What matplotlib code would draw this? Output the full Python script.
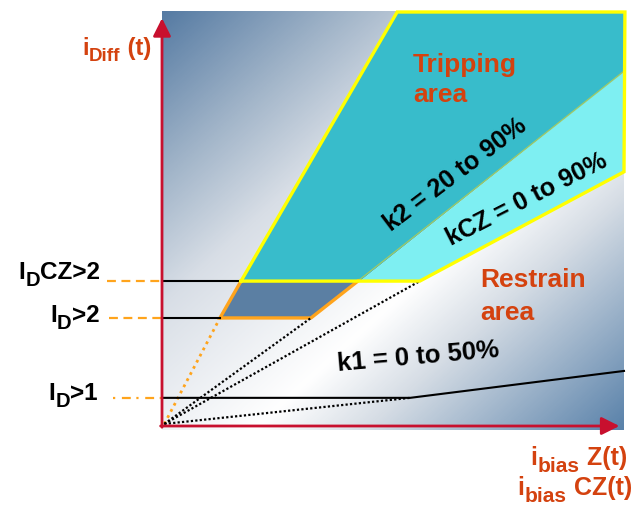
import numpy as np
import matplotlib
matplotlib.use('Agg')
import matplotlib.pyplot as plt
from matplotlib.colors import LinearSegmentedColormap
from matplotlib.transforms import offset_copy

plt.rcParams['font.family'] = ['Liberation Sans', 'DejaVu Sans']

# threshold levels (i_diff)
id1 = 0.68
id2 = 2.61
idcz2 = 3.5

# tripping area (k2 slope), check zone band (kCZ), I_D>2 block
trip_x = [1.71, 5.09, 10.02, 10.0, 4.29]
trip_y = [3.5, 10.0, 10.0, 8.57, 3.5]
cz_x = [4.29, 10.0, 10.0, 5.58]
cz_y = [3.5, 8.57, 6.14, 3.5]
blk_x = [1.255, 1.71, 4.24, 3.225]
blk_y = [2.61, 3.5, 3.5, 2.61]

# k1 characteristic
k1_x = [0.0, 5.37, 10.0]
k1_y = [0.68, 0.68, 1.33]

# dotted construction lines from origin
fan_x = [[0.05, 3.225], [0.05, 5.58], [0.05, 5.37]]
fan_y = [[0.05, 2.61], [0.05, 3.5], [0.05, 0.68]]

crimson = '#C8102E'
orange_txt = '#D4420F'
orange = '#FFA41C'
yellow = '#FFFF00'

SX, SY = 46.2, 41.4
fig = plt.figure(figsize=(6.39, 5.06), dpi=100)
ax = fig.add_axes([0, 0, 1, 1])
ax.set_xlim(-162 / SX, (639 - 162) / SX)
ax.set_ylim((427 - 506) / SY, 427 / SY)
ax.axis('off')
rend = fig.canvas.get_renderer()


def rich(x, y, parts, align='left', **kw):
    # parts: (string, fontsize, vertical offset in px)
    placed = []
    off = 0
    for s, size, dy in parts:
        t = ax.text(x, y, s, fontsize=size, ha='left', va='baseline',
                    transform=offset_copy(ax.transData, fig=fig, x=off, y=dy, units='dots'), **kw)
        placed.append((t, off, dy))
        off += t.get_window_extent(rend).width
    if align == 'right':
        for t, o, dy in placed:
            t.set_transform(offset_copy(ax.transData, fig=fig, x=o - off, y=dy, units='dots'))


# background gradient
cmap = LinearSegmentedColormap.from_list('bg', [
    (0.0, '#567BA3'), (0.2, '#A2B5C9'), (0.35, '#D8DEE6'),
    (0.6, '#FFFFFF'), (0.72, '#D6DDE5'), (1.0, '#5A82AA')])
gx, gy = np.meshgrid(np.linspace(0, 1, 300), np.linspace(0, 1, 300))
s = (gx + gy) / 2
ax.imshow(s, cmap=cmap, extent=[0, 10, -0.1, 10], origin='upper',
          aspect='auto', interpolation='bilinear', zorder=0, vmin=0, vmax=1)

# fills
ax.fill(trip_x, trip_y, color='#38BCCB', zorder=2, lw=0)
ax.fill(cz_x, cz_y, color='#7EEFF2', zorder=2, lw=0)
ax.fill(blk_x, blk_y, color='#5B7FA3', zorder=2, lw=0)

# k2 / kCZ dividing line
ax.plot([blk_x[3], cz_x[1]], [blk_y[3], cz_y[1]], color='#9CC86A', lw=1.0, zorder=3)

# yellow outline of tripping area
ox = [trip_x[0], trip_x[1], trip_x[2], cz_x[2], cz_x[3], trip_x[0]]
oy = [trip_y[0], trip_y[1], trip_y[2], cz_y[2], cz_y[3], trip_y[0]]
ax.plot(ox, oy, color=yellow, lw=2.4, zorder=4, solid_joinstyle='miter')

# orange outline of I_D>2 block
ax.plot([blk_x[1], blk_x[0], blk_x[3], blk_x[2]],
        [blk_y[1], blk_y[0], blk_y[3], blk_y[2]],
        color=orange, lw=2.4, zorder=3, solid_joinstyle='miter')
ax.plot([0.05, blk_x[0]], [0.05, blk_y[0]], color=orange, lw=2.0,
        ls=(0, (1, 1.5)), zorder=3)

# dotted fan
for fx, fy in zip(fan_x, fan_y):
    ax.plot(fx, fy, color='black', lw=1.6, ls=(0, (1, 1)), zorder=3)

# threshold lines
ax.plot([0, blk_x[1]], [idcz2, idcz2], color='black', lw=1.5, zorder=3)
ax.plot([0.05, blk_x[0]], [id2, id2], color='black', lw=1.5, zorder=3)
ax.plot(k1_x, k1_y, color='black', lw=1.5, zorder=3)

# orange dashed leaders
ax.plot([-1.2, -0.02], [idcz2, idcz2], color=orange, lw=1.6, ls=(0, (4, 2.5)), zorder=3)
ax.plot([-1.15, -0.02], [id2, id2], color=orange, lw=1.6, ls=(0, (4, 2.5)), zorder=3)
ax.plot([-1.07, -0.02], [id1, id1], color=orange, lw=1.6, ls=(0, (1, 3, 4, 2.5)), zorder=3)

# axes arrows
arr = dict(arrowstyle='-|>,head_length=0.4,head_width=0.2', color=crimson,
           lw=2.0, mutation_scale=27, shrinkA=0, shrinkB=0)
ax.annotate('', xy=(0, 9.85), xytext=(0, -0.03), arrowprops=arr, zorder=5)
ax.annotate('', xy=(9.9, 0), xytext=(-0.03, 0), arrowprops=arr, zorder=5)

# threshold labels
rich(-1.34, 3.57, [('I', 17.5, 0), ('D', 14.5, -7), ('CZ>2', 17.5, 0)],
     align='right', fontweight='bold')
rich(-1.36, 2.54, [('I', 17.5, 0), ('D', 14.5, -7), ('>2', 17.5, 0)],
     align='right', fontweight='bold')
rich(-1.40, 0.65, [('I', 17.5, 0), ('D', 14.5, -7), ('>1', 17.5, 0)],
     align='right', fontweight='bold')

# axis labels
rich(-1.72, 8.99, [('i', 17, 0), ('Diff', 13.5, -6), (' (t)', 17, 0)],
     fontweight='bold', color=orange_txt)
rich(10.06, -0.92, [('i', 18, 0), ('bias', 15, -7), (' Z(t)', 18, 0)],
     align='right', fontweight='bold', color=orange_txt)
rich(10.17, -1.64, [('i', 18, 0), ('bias', 15, -7), (' CZ(t)', 18, 0)],
     align='right', fontweight='bold', color=orange_txt)

# area labels
ax.text(5.43, 8.57, 'Tripping', fontsize=19, fontweight='bold', color=orange_txt, va='baseline')
ax.text(5.43, 7.85, 'area', fontsize=19, fontweight='bold', color=orange_txt, va='baseline')
ax.text(6.88, 3.38, 'Restrain', fontsize=19, fontweight='bold', color=orange_txt, va='baseline')
ax.text(6.88, 2.58, 'area', fontsize=19, fontweight='bold', color=orange_txt, va='baseline')

# slope labels
ax.text(6.34, 6.1, 'k2 = 20 to 90%', fontsize=18, fontweight='bold', rotation=37,
        ha='center', va='center', rotation_mode='anchor', zorder=6)
ax.text(7.9, 5.5, 'kCZ = 0 to 90%', fontsize=18, fontweight='bold', rotation=27,
        ha='center', va='center', rotation_mode='anchor', zorder=6)
ax.text(5.54, 1.7, 'k1 = 0 to 50%', fontsize=18.5, fontweight='bold', rotation=5,
        ha='center', va='center', rotation_mode='anchor', zorder=6)

plt.savefig('out.png', dpi=100)
